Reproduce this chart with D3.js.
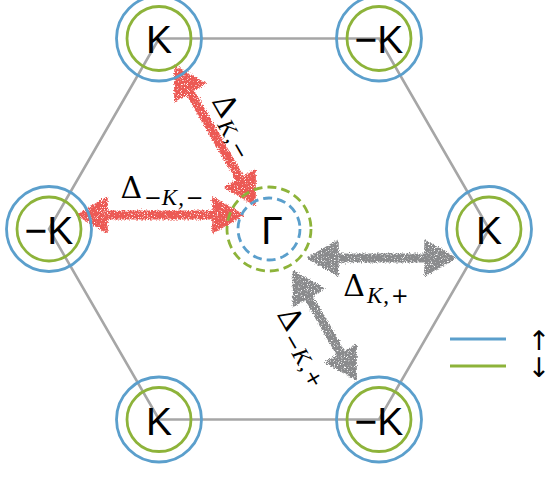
<!DOCTYPE html>
<html>
<head>
<meta charset="utf-8">
<script src="https://cdn.jsdelivr.net/npm/d3@7"></script>
<style>
  html, body { margin: 0; padding: 0; background: #fff; }
  svg { display: block; }
</style>
</head>
<body>
<svg id="chart" width="550" height="481"></svg>
<script>
// Corners of the hexagonal Brillouin zone, in units of its circumradius (y up)
const valleyLabels = ["K", "−K", "K", "−K", "K", "−K"];
const valleyX = [-0.5, 0.5, 1, 0.5, -0.5, -1];
const valleyY = [0.866, 0.866, 0, -0.866, -0.866, 0];
const centerLabel = "Γ";

// Scattering processes: node index (-1 = Γ), spin-sector sign, subscript
const arrowFrom = [0, 5, -1, -1];
const arrowTo = [-1, -1, 2, 3];
const arrowSign = ["−", "−", "+", "+"];
const arrowSub = ["K,−", "−K,−", "K,+", "−K,+"];

// Spin legend
const spinLabels = ["↑", "↓"];

const colors = {
  up: "#5b9fcc",
  down: "#8db33a",
  minus: "#ec5a55",
  plus: "#8a8b8d",
  edge: "#a6a6a6"
};

const svg = d3.select("#chart");

// Grainy, sprayed look of the arrows
const defs = svg.append("defs");
const grain = defs.append("filter")
  .attr("id", "grain")
  .attr("filterUnits", "userSpaceOnUse")
  .attr("x", 0).attr("y", 0).attr("width", 550).attr("height", 481)
  .attr("color-interpolation-filters", "sRGB");
grain.append("feTurbulence")
  .attr("type", "fractalNoise").attr("baseFrequency", 0.75)
  .attr("numOctaves", 2).attr("seed", 4).attr("result", "n");
grain.append("feDisplacementMap")
  .attr("in", "SourceGraphic").attr("in2", "n").attr("scale", 5)
  .attr("xChannelSelector", "R").attr("yChannelSelector", "G").attr("result", "d");
grain.append("feTurbulence")
  .attr("type", "fractalNoise").attr("baseFrequency", 1.3)
  .attr("numOctaves", 1).attr("seed", 9).attr("result", "n2");
grain.append("feColorMatrix")
  .attr("in", "n2").attr("type", "matrix")
  .attr("values", "0 0 0 0 0  0 0 0 0 0  0 0 0 0 0  7 0 0 0 -1.9")
  .attr("result", "holes");
grain.append("feComposite")
  .attr("in", "d").attr("in2", "holes").attr("operator", "in");

const x = d3.scaleLinear().domain([-1, 1]).range([49, 489]);
const y = d3.scaleLinear().domain([-1, 1]).range([449, 9]);

const nodes = valleyLabels.map((label, i) => ({ label, px: x(valleyX[i]), py: y(valleyY[i]) }));
const gamma = { label: centerLabel, px: x(0), py: y(0) };
const nodeAt = i => (i < 0 ? gamma : nodes[i]);

// Hexagon edges
svg.append("path")
  .attr("d", d3.line().x(d => d.px).y(d => d.py).curve(d3.curveLinearClosed)(nodes))
  .attr("fill", "none")
  .attr("stroke", colors.edge)
  .attr("stroke-width", 2.6);

// Arrow geometry: tail/head gaps, sideways shift, label anchor (along, across)
const arrowLayout = [
  { gap0: 32, gap1: 28, shift: 0, la: 113, lp: -14 },
  { gap0: 28, gap1: 26, shift: -14, la: 113, lp: -31 },
  { gap0: 39, gap1: 34, shift: 29, la: 107, lp: 67 },
  { gap0: 49, gap1: 46, shift: 0, la: 119, lp: 36 }
];
const headLen = 30, headHalf = 17.5, shaftHalf = 3.8;

const arrows = arrowFrom.map((f, i) => {
  const a = nodeAt(f), b = nodeAt(arrowTo[i]);
  const dx = b.px - a.px, dy = b.py - a.py, len = Math.hypot(dx, dy);
  const u = [dx / len, dy / len], n = [-u[1], u[0]];
  const L = arrowLayout[i];
  const P = (base, s, t) => [base[0] + u[0] * s + n[0] * t, base[1] + u[1] * s + n[1] * t];
  const A = P([a.px, a.py], L.gap0, L.shift);
  const B = P([b.px, b.py], -L.gap1, L.shift);
  const pts = [
    A,
    P(A, headLen, headHalf), P(A, headLen, shaftHalf),
    P(B, -headLen, shaftHalf), P(B, -headLen, headHalf),
    B,
    P(B, -headLen, -headHalf), P(B, -headLen, -shaftHalf),
    P(A, headLen, -shaftHalf), P(A, headLen, -headHalf)
  ];
  return {
    pts,
    color: arrowSign[i] === "−" ? colors.minus : colors.plus,
    sub: arrowSub[i],
    anchor: P([a.px, a.py], L.la, L.lp),
    angle: Math.atan2(u[1], u[0]) * 180 / Math.PI
  };
});

svg.append("g")
  .attr("filter", "url(#grain)")
  .selectAll("path")
  .data(arrows)
  .join("path")
  .attr("d", d => d3.line().curve(d3.curveLinearClosed)(d.pts))
  .attr("fill", d => d.color)
  .attr("stroke", d => d.color)
  .attr("stroke-width", 1.5)
  .attr("stroke-linejoin", "round");

// Valley rings: spin-up outer, spin-down inner
const rings = svg.append("g").attr("fill", "none").attr("stroke-width", 2.8);
rings.selectAll("circle.up").data(nodes).join("circle")
  .attr("class", "up").attr("cx", d => d.px).attr("cy", d => d.py).attr("r", 42.5)
  .attr("stroke", colors.up);
rings.selectAll("circle.down").data(nodes).join("circle")
  .attr("class", "down").attr("cx", d => d.px).attr("cy", d => d.py).attr("r", 32)
  .attr("stroke", colors.down);

// Γ pocket: dashed, spin-down outer, spin-up inner
rings.append("circle")
  .attr("cx", gamma.px).attr("cy", gamma.py).attr("r", 42)
  .attr("stroke", colors.down).attr("stroke-dasharray", "9,5");
rings.append("circle")
  .attr("cx", gamma.px).attr("cy", gamma.py).attr("r", 31)
  .attr("stroke", colors.up).attr("stroke-dasharray", "9,5");

// Point labels
svg.append("g")
  .attr("font-family", "'Liberation Sans', Arial, sans-serif")
  .attr("font-size", 39)
  .attr("text-anchor", "middle")
  .attr("fill", "#000")
  .selectAll("text")
  .data(nodes.concat([gamma]))
  .join("text")
  .attr("x", d => d.px + (d === gamma ? 3 : 0))
  .attr("y", d => d.py + 15)
  .text(d => d.label);

// Coupling labels Δ with subscripts, aligned with their arrows
const lab = svg.append("g")
  .selectAll("text")
  .data(arrows)
  .join("text")
  .attr("transform", d => `translate(${d.anchor[0]},${d.anchor[1]}) rotate(${d.angle})`)
  .attr("text-anchor", "middle")
  .attr("fill", "#000");
lab.append("tspan")
  .attr("font-family", "'DejaVu Serif', serif")
  .attr("font-size", 30)
  .text("Δ");
lab.each(function (d) {
  const t = d3.select(this);
  Array.from(d.sub).forEach((ch, k) => {
    const letter = /[A-Za-z]/.test(ch);
    const sign = ch === "−" || ch === "+";
    const s = t.append("tspan")
      .attr("font-family", sign ? "'DejaVu Sans', sans-serif" : "'Liberation Serif', serif")
      .attr("font-size", sign ? 21 : 23)
      .attr("font-style", letter ? "italic" : "normal")
      .text(ch);
    if (k === 0) s.attr("dy", 7).attr("dx", 2);
    if (ch === ",") s.attr("dx", 1);
    if (k > 0 && d.sub[k - 1] === ",") s.attr("dx", 2);
  });
});

// Spin legend: a line per spin, with the spin arrows stacked in one text block
const ly = d3.scalePoint().domain(spinLabels).range([339, 366]);
const legend = svg.append("g");
legend.selectAll("line")
  .data(spinLabels)
  .join("line")
  .attr("x1", 450).attr("x2", 506)
  .attr("y1", d => ly(d)).attr("y2", d => ly(d))
  .attr("stroke", (d, i) => (i === 0 ? colors.up : colors.down))
  .attr("stroke-width", 3);
legend.append("text")
  .attr("text-anchor", "middle")
  .attr("font-family", "'DejaVu Sans', sans-serif")
  .attr("font-size", 27)
  .selectAll("tspan")
  .data(spinLabels)
  .join("tspan")
  .attr("x", 539)
  .attr("y", d => ly(d) + 11)
  .text(d => d);
</script>
</body>
</html>
